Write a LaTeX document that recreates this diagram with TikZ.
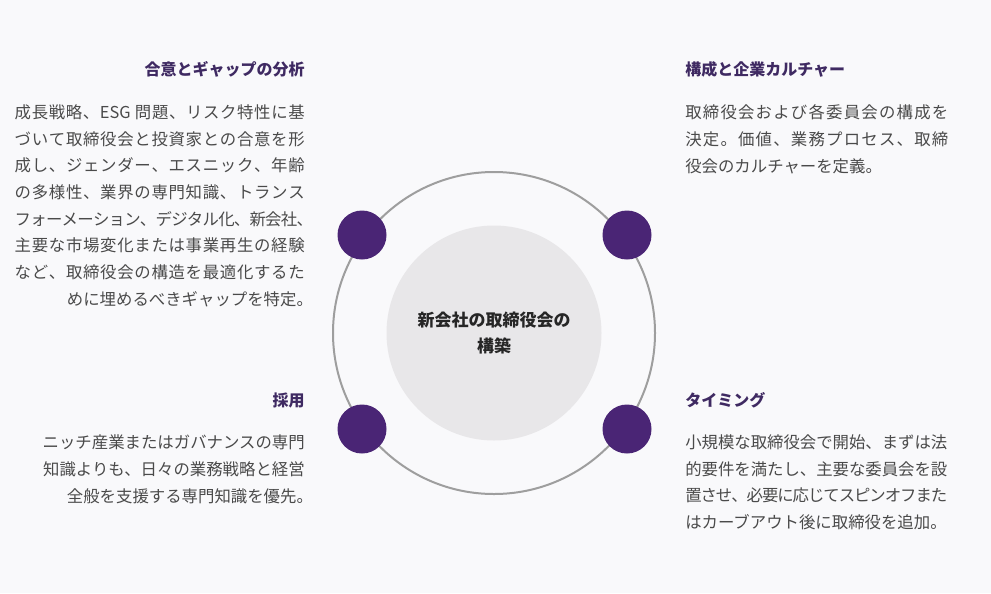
\documentclass[tikz,border=0pt]{standalone}
\usepackage{fontspec}
\setmainfont{Noto Sans CJK JP}
\usetikzlibrary{calc}

\definecolor{pagebg}{HTML}{F9F9FB}
\definecolor{ringgray}{HTML}{9E9E9E}
\definecolor{coregray}{HTML}{E8E7E9}
\definecolor{dotpurple}{HTML}{4A2575}
\definecolor{headpurple}{HTML}{3F2A62}
\definecolor{bodygray}{HTML}{4A4A4A}

% spread the characters of one line over a given width
\makeatletter
\newcommand\spreadchars[1]{%
  \let\sc@sep\relax
  \@tfor\sc@item:=#1\do{\sc@sep\sc@item\def\sc@sep{\hskip 0pt plus 1fil minus 1pt}}}
\makeatother
\newcommand\jline[2]{\hbox to #1{\spreadchars{#2}}}
\newcommand\jlinep[2]{\hbox to #1{\spreadchars{#2}\kern-.5em}}

\tikzset{
  ring/.style = {circle, draw=ringgray, line width=1.5pt, minimum size=241.5pt, inner sep=0pt, outer sep=0pt},
  core/.style = {circle, fill=coregray, minimum size=161.25pt, inner sep=0pt},
  dot/.style = {circle, fill=dotpurple, minimum size=36.75pt, inner sep=0pt},
  heading/.style = {inner sep=0pt, text=headpurple, font=\fontsize{12}{14}\selectfont\bfseries},
  body/.style = {inner sep=0pt, text=bodygray, font=\fontsize{12.3}{20}\selectfont},
  hub/.style = {inner sep=0pt, text=black!85, align=center, font=\fontsize{12.75}{19.5}\selectfont\bfseries}
}

\begin{document}
\begin{tikzpicture}[x=0.75pt, y=-0.75pt]
  \path[fill=pagebg] (0,0) rectangle (991,593);

  % hub
  \node[ring] (ring) at (494,333) {};
  \node[core] (core) at (ring.center) {};
  \node[hub] (title) at (core.center) {新会社の取締役会の\\構築};
  \node[dot] (dot-nw) at ($(ring.center)+(-132,-98)$) {};
  \node[dot] (dot-ne) at ($(ring.center)+(133,-98)$) {};
  \node[dot] (dot-sw) at ($(ring.center)+(-132,96)$) {};
  \node[dot] (dot-se) at ($(ring.center)+(133,96)$) {};

  % left column (body nodes sit on the baseline of their last line)
  \node[heading, anchor=base east] (gap-head) at (305,75) {合意とギャップの分析};
  \node[body, anchor=base east, align=right] (gap-text) at (305,305) {%
    \jline{217.5pt}{成長戦略、{ESG\ }問題、リスク特性に基}\\
    \jline{217.5pt}{づいて取締役会と投資家との合意を形}\\
    \jline{217.5pt}{成し、ジェンダー、エスニック、年齢}\\
    \jline{217.5pt}{の多様性、業界の専門知識、トランス}\\
    \jlinep{217.5pt}{フォーメーション、デジタル化、新会社、}\\
    \jline{217.5pt}{主要な市場変化または事業再生の経験}\\
    \jline{217.5pt}{など、取締役会の構造を最適化するた}\\
    めに埋めるべきギャップを特定。\kern-.5em};

  \node[heading, anchor=base east] (hire-head) at (305,406) {採用};
  \node[body, anchor=base east, align=right] (hire-text) at (305,502) {%
    ニッチ産業またはガバナンスの専門\\
    知識よりも、日々の業務戦略と経営\\
    全般を支援する専門知識を優先。\kern-.5em};

  % right column
  \node[heading, anchor=base west] (form-head) at (685,75) {構成と企業カルチャー};
  \node[body, anchor=base west, align=left] (form-text) at (685,172) {%
    \jline{197.25pt}{取締役会および各委員会の構成を}\\
    \jline{197.25pt}{決定。価値、業務プロセス、取締}\\
    役会のカルチャーを定義。};

  \node[heading, anchor=base west] (time-head) at (685,406) {タイミング};
  \node[body, anchor=base west, align=left] (time-text) at (685,528.5) {%
    \jline{196.5pt}{小規模な取締役会で開始、まずは法}\\
    \jline{196.5pt}{的要件を満たし、主要な委員会を設}\\
    \jline{196.5pt}{置させ、必要に応じてスピンオフまた}\\
    はカーブアウト後に取締役を追加。};
\end{tikzpicture}
\end{document}
